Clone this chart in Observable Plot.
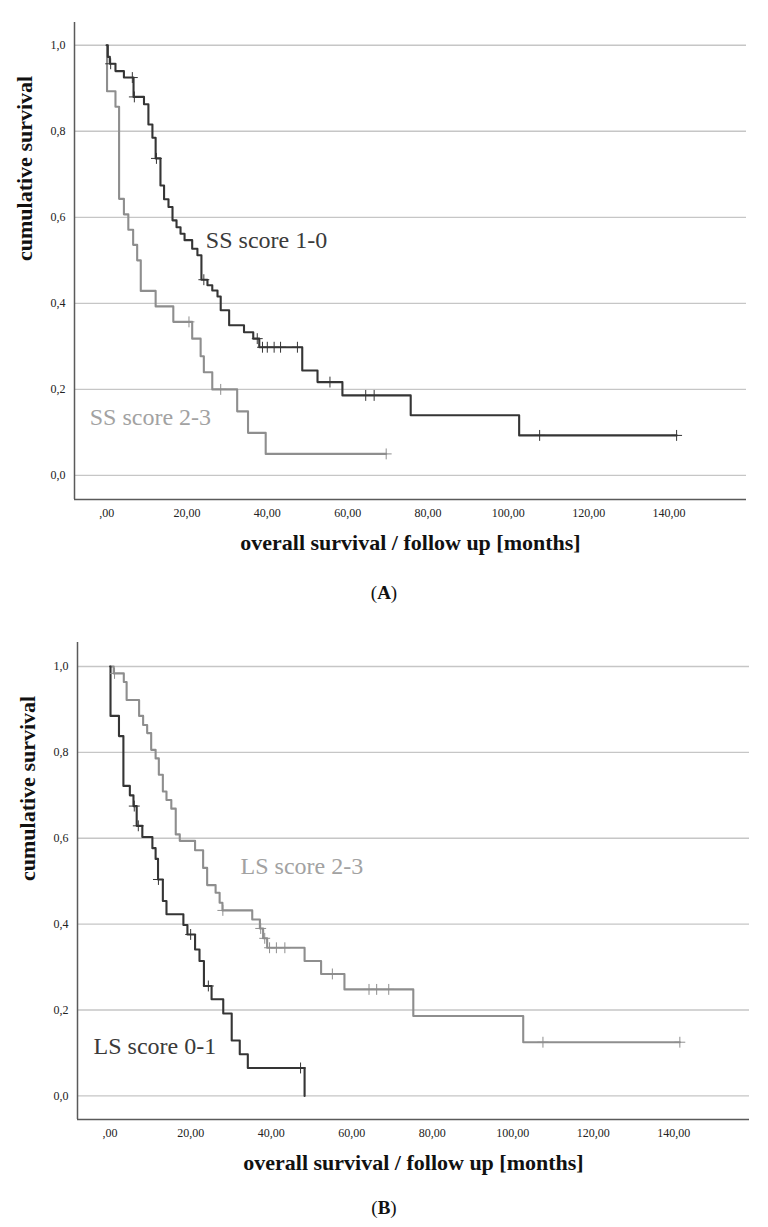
<!DOCTYPE html>
<html><head><meta charset="utf-8">
<script src="https://cdn.jsdelivr.net/npm/d3@7"></script>
<script src="https://cdn.jsdelivr.net/npm/@observablehq/plot@0.6"></script>
<style>
body{margin:0;background:#fff;width:768px;font-family:"Liberation Serif","Times New Roman",serif;}
.cap{text-align:center;font-size:19px;color:#111;width:768px;}
svg{display:block}
</style></head><body>
<div id="a"></div>
<div class="cap" style="height:26px;line-height:26px">(<b>A</b>)</div>
<div id="b"></div>
<div class="cap" style="height:34px;line-height:34px">(<b>B</b>)</div>
<script>
// ---- axis ticks ----
const xTicks = [0, 20, 40, 60, 80, 100, 120, 140];
const xTickLabels = [",00", "20,00", "40,00", "60,00", "80,00", "100,00", "120,00", "140,00"];
const yTicks = [0, 0.2, 0.4, 0.6, 0.8, 1.0];
const yTickLabels = ["0,0", "0,2", "0,4", "0,6", "0,8", "1,0"];
const xTitle = "overall survival / follow up [months]";
const yTitle = "cumulative survival";

// ---- Panel A: SS score 1-0 (dark) ----
const ssLowTime = [0, 0.3, 0.8, 2.2, 4.3, 6.7, 9.3, 10.4, 11.4, 12.2, 13.4, 14.3, 15.4, 16.4, 17.4, 18.4, 19.4, 21.3, 22.6, 23.6, 25.1, 26.3, 27.6, 28.4, 30.5, 34.2, 36.5, 38.0, 48.7, 52.5, 58.7, 75.7, 102.7, 141.9];
const ssLowSurv = [1, 0.973, 0.957, 0.940, 0.925, 0.880, 0.863, 0.816, 0.785, 0.737, 0.674, 0.642, 0.624, 0.593, 0.577, 0.562, 0.547, 0.527, 0.512, 0.455, 0.442, 0.430, 0.416, 0.384, 0.349, 0.333, 0.318, 0.298, 0.244, 0.217, 0.186, 0.140, 0.093, 0.093];
const ssLowCensorTime = [1.0, 6.4, 6.9, 12.4, 24.2, 37.5, 38.8, 40.0, 41.7, 43.3, 47.5, 55.6, 64.5, 66.6, 107.8, 141.9];
const ssLowCensorSurv = [0.957, 0.925, 0.880, 0.737, 0.455, 0.318, 0.298, 0.298, 0.298, 0.298, 0.298, 0.217, 0.186, 0.186, 0.093, 0.093];

// ---- Panel A: SS score 2-3 (gray) ----
const ssHighTime = [0, 0.1, 2.2, 3.1, 4.3, 5.4, 6.6, 7.6, 8.5, 12.2, 16.6, 21.3, 23.4, 24.2, 26.3, 32.5, 35.2, 39.6, 69.6];
const ssHighSurv = [1, 0.893, 0.857, 0.643, 0.607, 0.571, 0.536, 0.5, 0.429, 0.393, 0.357, 0.318, 0.277, 0.24, 0.2, 0.149, 0.099, 0.05, 0.05];
const ssHighCensorTime = [20.5, 28.4, 69.6];
const ssHighCensorSurv = [0.357, 0.2, 0.05];

// ---- Panel B: LS score 0-1 (dark) ----
const lsLowTime = [0, 0.1, 2.2, 3.3, 4.9, 5.8, 6.6, 8.0, 10.5, 11.3, 11.9, 13.1, 14.0, 18.2, 19.2, 21.1, 22.2, 23.3, 25.2, 28.1, 30.2, 32.2, 34.2, 48.3];
const lsLowSurv = [1, 0.885, 0.838, 0.722, 0.700, 0.675, 0.629, 0.603, 0.577, 0.552, 0.504, 0.454, 0.423, 0.398, 0.376, 0.341, 0.314, 0.256, 0.225, 0.192, 0.129, 0.097, 0.065, 0.0];
const lsLowCensorTime = [6.0, 7.0, 12.0, 20.0, 24.4, 47.3];
const lsLowCensorSurv = [0.675, 0.629, 0.504, 0.376, 0.256, 0.065];

// ---- Panel B: LS score 2-3 (gray) ----
const lsHighTime = [0, 0.9, 3.4, 4.1, 7.2, 8.2, 9.2, 10.2, 11.3, 12.1, 13.1, 14.0, 15.2, 16.3, 17.3, 21.1, 23.1, 24.1, 26.2, 27.2, 27.9, 35.3, 37.2, 38.0, 39.0, 48.3, 52.4, 58.2, 75.3, 102.6, 141.5];
const lsHighSurv = [1, 0.984, 0.964, 0.922, 0.885, 0.864, 0.845, 0.806, 0.786, 0.748, 0.709, 0.689, 0.669, 0.609, 0.594, 0.572, 0.531, 0.491, 0.473, 0.450, 0.432, 0.411, 0.390, 0.367, 0.345, 0.314, 0.284, 0.248, 0.186, 0.125, 0.125];
const lsHighCensorTime = [1.1, 28.0, 37.4, 38.4, 39.6, 41.3, 43.4, 55.2, 64.3, 66.2, 69.2, 107.5, 141.5];
const lsHighCensorSurv = [0.984, 0.432, 0.390, 0.367, 0.345, 0.345, 0.345, 0.284, 0.248, 0.248, 0.248, 0.125, 0.125];

// ---- curve labels (anchor in data units: months, survival) ----
const labelTextA = ["SS score 1-0", "SS score 2-3"];
const labelTimeA = [24.7, -4.2];
const labelSurvA = [0.547, 0.135];
const labelTextB = ["LS score 2-3", "LS score 0-1"];
const labelTimeB = [32.4, -4.1];
const labelSurvB = [0.535, 0.116];

const DARK = "#353535";
const GRAY = "#8e8e8e";
const GRAY_TEXT = "#a2a2a2";
const FONT = "Liberation Serif, Times New Roman, serif";

const zipCurve = (t, s) => t.map((d, i) => ({t: d, s: s[i]}));

function panel(o) {
  const lines = o.curves.map(c => Plot.line(zipCurve(c.time, c.surv), {x: "t", y: "s", curve: "step-after", stroke: c.color, strokeWidth: 2.1}));
  const censors = o.curves.map(c => Plot.dot(zipCurve(c.ctime, c.csurv), {x: "t", y: "s", symbol: "plus", r: 3.6, stroke: c.color, strokeWidth: 1}));
  const labels = o.labelText.map((txt, i) => ({t: o.labelTime[i], s: o.labelSurv[i], txt, color: o.labelColor[i]}));
  return Plot.plot({
    width: 768,
    height: o.height,
    marginTop: o.mt,
    marginBottom: o.mb,
    marginLeft: o.ml,
    marginRight: o.mr,
    style: {fontFamily: FONT, background: "#fff", color: "#222"},
    x: {domain: o.xDomain},
    y: {domain: o.yDomain},
    marks: [
      Plot.gridY(yTicks, {stroke: "#c6c6c6", strokeOpacity: 1, strokeWidth: 1.4}),
      Plot.ruleX([o.xDomain[0]], {stroke: "#5a5a5a", strokeWidth: 1.5}),
      Plot.ruleY([o.yDomain[0]], {stroke: "#5a5a5a", strokeWidth: 1.5}),
      Plot.axisX(xTicks, {tickSize: 0, tickPadding: 9, tickFormat: (d) => xTickLabels[xTicks.indexOf(d)], fontSize: 12, fill: "#222", label: null}),
      Plot.axisY(yTicks, {tickSize: 0, tickPadding: 9, tickFormat: (d) => yTickLabels[yTicks.indexOf(d)], fontSize: 12, fill: "#222", label: null}),
      Plot.text([xTitle], {frameAnchor: "bottom", dy: 50, fontSize: 22, fontWeight: "bold", fill: "#111", fontFamily: FONT}),
      Plot.text([yTitle], {frameAnchor: "left", dx: -50, rotate: -90, fontSize: 22, fontWeight: "bold", fill: "#111", fontFamily: FONT}),
      ...lines,
      ...censors,
      Plot.text(labels, {x: "t", y: "s", text: "txt", fill: "color", textAnchor: "start", fontSize: 24, fontFamily: FONT})
    ]
  });
}

document.getElementById("a").append(panel({
  height: 580, mt: 22, mb: 81, ml: 74, mr: 22,
  xDomain: [-8, 159.3], yDomain: [-0.056, 1.053],
  curves: [
    {time: ssHighTime, surv: ssHighSurv, ctime: ssHighCensorTime, csurv: ssHighCensorSurv, color: GRAY},
    {time: ssLowTime, surv: ssLowSurv, ctime: ssLowCensorTime, csurv: ssLowCensorSurv, color: DARK}
  ],
  labelText: labelTextA, labelTime: labelTimeA, labelSurv: labelSurvA, labelColor: ["#3a3a3a", GRAY_TEXT]
}));

document.getElementById("b").append(panel({
  height: 585, mt: 36, mb: 72, ml: 77, mr: 19,
  xDomain: [-8.1, 158.8], yDomain: [-0.055, 1.056],
  curves: [
    {time: lsHighTime, surv: lsHighSurv, ctime: lsHighCensorTime, csurv: lsHighCensorSurv, color: GRAY},
    {time: lsLowTime, surv: lsLowSurv, ctime: lsLowCensorTime, csurv: lsLowCensorSurv, color: DARK}
  ],
  labelText: labelTextB, labelTime: labelTimeB, labelSurv: labelSurvB, labelColor: [GRAY_TEXT, "#3a3a3a"]
}));
</script></body></html>
